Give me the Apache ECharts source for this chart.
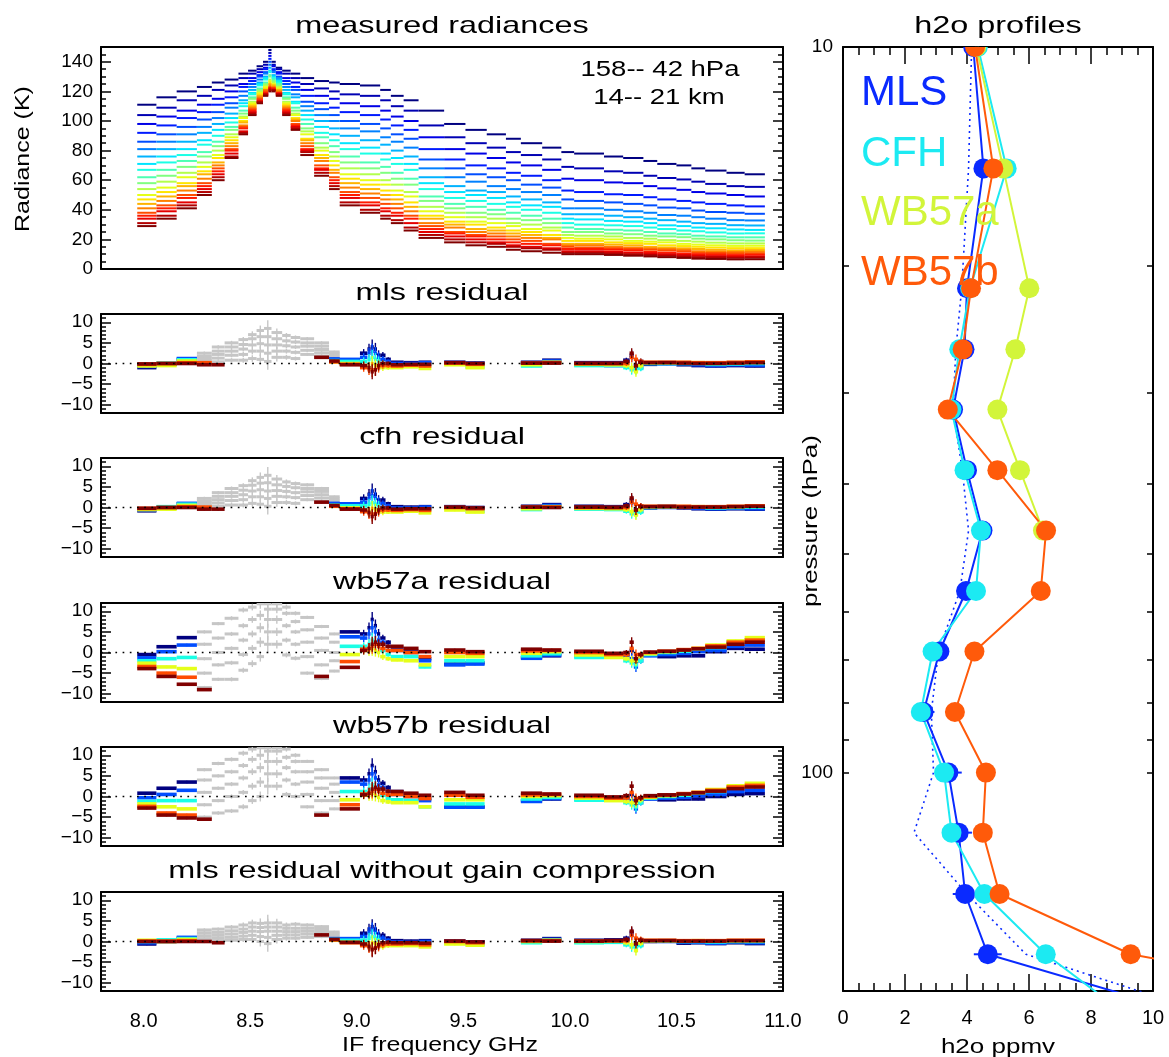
<!DOCTYPE html>
<html>
<head>
<meta charset="utf-8">
<title>measured radiances and h2o profiles</title>
<script src="https://cdn.jsdelivr.net/npm/echarts@6.0.0/dist/echarts.min.js"></script>
<style>
html,body{margin:0;padding:0;background:#fff;}
#chart{width:1169px;height:1057px;}
</style>
</head>
<body>
<div id="chart"></div>
<script>
// ================= DATA =================
const freqTicks = [8.0, 8.5, 9.0, 9.5, 10.0, 10.5, 11.0];
const radianceTicks = [0, 20, 40, 60, 80, 100, 120, 140];
const residualTicks = [-10, -5, 0, 5, 10];
const pressureLabels = [10, 100];
const pressureTicks = [10, 20, 30, 40, 50, 60, 70, 80, 90, 100, 200];

// radiance channels (GHz)
const radLo = [7.97,8.06,8.155,8.25,8.32,8.38,8.445,8.49,8.53,8.56,8.585,8.60,8.62,8.65,8.69,8.735,8.80,8.87,8.92,9.015,9.11,9.16,9.22,9.29,9.41,9.51,9.61,9.70,9.77,9.87,9.96,10.02,10.16,10.25,10.345,10.41,10.50,10.57,10.635,10.735,10.82];
const radHi = [8.06,8.155,8.25,8.32,8.38,8.445,8.49,8.53,8.56,8.585,8.60,8.62,8.65,8.69,8.735,8.80,8.87,8.92,9.015,9.11,9.16,9.22,9.29,9.41,9.51,9.61,9.70,9.77,9.87,9.96,10.02,10.16,10.25,10.345,10.41,10.50,10.57,10.635,10.735,10.82,10.915];
// radiance (K) per channel, 21 tangent levels from top (42 hPa) to bottom (158 hPa)
const radByChannel = [
[111,104,98,92,86,81,76,71,67,62,58,54,50,47,44,41,38,36,34,31,29],
[116,109,103,97,91,86,81,76,72,67,63,59,55,52,49,46,43,41,39,36,34],
[120,114,107,102,96,91,86,81,77,73,69,65,62,58,56,53,50,48,45,43,41],
[123,117,111,106,101,96,92,87,84,79,76,72,69,66,64,61,58,56,54,52,50],
[126,121,115,111,106,102,98,94,90,86,83,80,77,75,72,70,68,66,64,62,60],
[128,124,120,116,112,109,105,102,99,96,94,91,89,87,85,83,81,80,78,76,75],
[132,129,125,123,120,117,114,112,110,107,105,103,102,100,99,97,96,95,93,92,91],
[134,132,129,127,125,123,121,119,118,116,115,113,112,111,110,109,108,107,106,105,104],
[137,135,133,131,130,128,126,125,124,122,121,120,119,118,117,116,115,114,113,113,112],
[140,138,136,135,133,132,130,129,128,126,125,124,123,122,121,121,120,119,118,118,117],
[148,146,144,142,140,138,136,134,133,131,130,128,127,126,125,124,123,122,122,121,120],
[140,138,137,135,134,133,131,130,129,128,127,126,125,124,124,123,122,122,121,121,120],
[136,135,133,132,130,129,128,127,126,125,124,123,122,121,121,120,119,119,118,118,117],
[134,132,129,127,125,123,121,119,118,116,115,113,112,111,110,109,108,107,106,105,104],
[132,129,126,123,121,118,116,113,112,109,107,105,104,102,101,100,98,97,96,95,94],
[129,125,121,117,113,110,107,104,101,98,95,93,91,88,87,85,83,81,80,79,77],
[127,122,117,112,108,104,100,96,92,89,85,82,80,77,75,73,70,68,67,65,63],
[126,120,115,109,104,100,95,91,87,83,79,76,73,70,67,65,62,60,58,56,54],
[125,118,112,106,100,95,90,85,81,76,72,68,64,61,58,55,52,50,48,45,43],
[124,117,110,104,98,93,87,82,78,72,68,64,60,57,54,51,48,45,43,40,38],
[121,114,107,101,95,89,84,78,74,69,65,60,57,53,50,47,44,41,39,36,34],
[117,110,103,97,91,86,80,75,71,65,61,57,53,50,47,44,41,38,36,33,31],
[114,107,100,94,88,82,76,71,67,61,57,52,49,45,42,39,36,34,31,28,26],
[107,97,89,81,74,68,62,58,54,49,46,42,39,36,34,31,29,27,25,23,21],
[98,89,81,74,68,62,56,52,48,44,41,38,35,32,30,28,25,24,22,20,18],
[94,85,78,70,64,59,53,50,46,42,38,35,32,30,27,25,23,22,20,18,16],
[91,82,75,68,62,56,52,48,44,40,37,34,31,28,26,24,22,20,18,17,15],
[88,79,72,65,60,54,49,45,42,38,34,31,29,26,24,22,20,18,16,15,13],
[85,77,70,63,57,52,47,43,40,36,33,30,27,25,23,21,19,17,15,14,12],
[82,74,67,60,55,50,45,42,38,34,31,28,26,23,21,20,17,16,14,13,11],
[79,69,61,53,47,41,37,34,31,28,25,23,21,19,17,16,15,13.5,12,11,10],
[78,68,60,52,46,41,37,33.5,30,27,25,22.5,20.5,19,17,16,14.5,13.5,12,11,10],
[76,66,58.5,50.5,45,40,36,32.5,29.5,26.5,24,22,20,18,16.5,15,14,13,11.5,10.5,9.5],
[75,65,58,50,44,39,35,32,29,26,23.5,21,19,17.5,16,14.5,13.5,12.5,11,10,9],
[73,63,56,48.5,43,38,34,31,28,25,22.5,20.5,18.5,17,15,14,13,11.5,10.5,9.5,8.5],
[71,61.5,54.5,47,41.5,36.5,33,29.5,27,24,22,19.5,18,16,14.5,13.5,12.5,11,10,9,8],
[70,60.5,53.5,46,41,36,32,29,26,23.5,21.5,19,17,15.5,14,13,12,10.5,9.5,8.5,7.5],
[68,59,52,45,39.5,35,31,28,25.5,22.5,20.5,18.5,16.5,15,13.5,12,11,10,9,8,7],
[66.5,57.5,51,44,38.5,34,30.5,27.5,24.7,22,20,17.8,16,14.5,13,11.8,10.8,9.8,8.7,7.9,6.8],
[65,56,50,43,38,33,29.6,26.7,24,21.4,19.4,17.3,15.6,14.1,12.6,11.5,10.5,9.4,8.4,7.6,6.5],
[64,55.5,49,42.3,37.3,32.8,29.4,26.4,24.1,21.4,19.2,17.3,15.7,14.1,12.8,11.6,10.5,9.6,8.4,7.8,6.6]
];

// residual channels used in the retrieval (GHz) and their error-bar half heights (K)
const resLo = [7.97,8.06,8.155,8.87,8.92,9.015,9.05,9.065,9.08,9.095,9.11,9.135,9.16,9.22,9.29,9.41,9.51,9.77,9.87,10.02,10.16,10.25,10.28,10.30,10.32,10.345,10.41,10.50,10.57,10.635,10.735,10.82];
const resHi = [8.06,8.155,8.25,8.92,9.015,9.05,9.065,9.08,9.095,9.11,9.135,9.16,9.22,9.29,9.35,9.51,9.60,9.87,9.96,10.16,10.25,10.28,10.30,10.32,10.345,10.41,10.50,10.57,10.635,10.735,10.82,10.915];
const resErr = [0.3,0.3,0.3,0.3,0.3,1.0,1.3,1.8,1.5,1.2,0.8,0.5,0.3,0.3,0.3,0.3,0.3,0.3,0.3,0.3,0.3,0.6,1.2,1.2,0.7,0.3,0.3,0.3,0.3,0.3,0.3,0.3];
// channels not used (grey)
const grayLo = [8.25,8.32,8.38,8.445,8.49,8.53,8.565,8.60,8.65,8.69,8.735,8.80,8.87];
const grayHi = [8.32,8.38,8.445,8.49,8.53,8.565,8.60,8.65,8.69,8.735,8.80,8.87,8.92];
const grayErr = [0.4,0.4,0.5,0.6,0.8,1.2,2.0,1.0,0.6,0.5,0.4,0.4,0.3];

// residuals (K): per channel, 6 representative levels (top -> bottom)
const mlsRes = [
[-1.0,-0.7,-0.4,-0.6,-0.2,-0.1],[-0.2,-0.1,0.1,-0.5,0,0],[1.0,1.2,0.9,0.6,0.2,0],
[1.0,1.1,0.7,0.4,0.4,0.6],[0.9,1.0,0.5,0,-0.2,-0.3],
[2.5,1.5,0.5,-0.5,-1,-0.5],[3.5,2.5,1,-1,-1.5,-1],[4.0,3.0,1.5,0,-1.5,-2],[3.5,2.5,1.0,-0.5,-1.5,-1.5],[2.0,1.5,0.5,-0.5,-1,-0.5],[2.0,1.0,0,-1,-0.5,0],[1.0,0.5,-0.5,-1.0,-0.5,0],
[0.3,0,-0.5,-1.0,-0.6,-0.3],[0.2,0,-0.5,-0.8,-0.4,-0.2],[0.3,0.2,-0.3,-1.2,-0.6,-0.2],
[0.3,0.2,0,-0.3,0.1,0.2],[0.1,0,-0.8,-1.0,-0.2,0],
[0.3,0.1,-0.6,-0.3,0.1,0.1],[0.8,0.6,0.2,0.3,0.2,0.1],
[0.2,-0.3,-0.5,-0.2,0,0],[0.2,-0.5,-0.5,-0.3,0,0],
[0.8,0.5,-1.0,-0.5,0,0.5],[2.0,1.5,-1.5,-1.0,1.5,2.5],[-1.0,-0.5,-1.5,-2.0,1.0,-0.5],[0.5,-1.0,-1.2,-0.5,0.5,0.3],
[-0.2,0,0,0.2,0.3,0.2],[0.2,-0.1,0,0.2,0.3,0.2],[-0.3,0,0,0.2,0.3,0.1],[-0.5,-0.3,0,0.2,0.2,0],
[-0.6,-0.5,-0.2,0.1,0.2,0],[-0.5,-0.3,-0.1,0.2,0.3,0.1],[-0.6,-0.4,0,0.3,0.4,0.2]
];
const mlsGray = [[0,0.6,1.2,1.8,2.5],[0.4,1.3,2.2,3.0,4.0],[0.8,2.0,3.0,4.0,5.0],[0.8,2.2,3.5,4.6,5.8],[1.2,3.0,4.5,6.0,7.0],[1.0,3.0,4.8,6.5,8.0],[0.5,2.5,4.5,6.5,8.5],[1.5,3.0,4.5,6.0,7.5],[1.5,3.0,4.3,5.5,6.8],[1.2,2.7,4.0,5.2,6.3],[2.2,3.2,4.2,5.0,6.0],[1.8,2.6,3.4,4.2,5.0],[0.8,1.3,1.8,2.3,2.8]];
const mlsExtra = [[8.25,8.32,0.2,4],[8.25,8.32,-0.3,5],[8.32,8.38,-0.3,5],[8.80,8.87,1.5,5]];

const cfhRes = [
[-0.8,-0.6,-0.3,-0.5,-0.2,-0.2],[-0.1,0,0.2,-0.4,0,0],[0.9,1.0,0.8,0.5,0.2,0],
[0.9,1.0,0.6,0.3,0.3,0.5],[0.8,0.9,0.4,-0.1,-0.3,-0.4],
[2.2,1.3,0.4,-0.6,-1,-0.6],[3.2,2.2,0.8,-1,-1.5,-1.2],[4.0,2.8,1.2,-0.2,-1.6,-2.2],[3.2,2.3,0.8,-0.6,-1.5,-1.6],[1.8,1.3,0.4,-0.6,-1,-0.6],[1.8,0.9,-0.1,-1.1,-0.6,-0.1],[0.9,0.4,-0.6,-1.1,-0.6,-0.1],
[0.2,-0.1,-0.6,-1.1,-0.7,-0.4],[0.1,-0.1,-0.6,-0.9,-0.5,-0.3],[0.2,0.1,-0.4,-1.3,-0.7,-0.3],
[0.2,0.1,-0.1,-0.6,0,0.1],[0,-0.1,-0.9,-1.1,-0.3,-0.1],
[0.3,0.1,-0.5,-0.3,0.1,0.1],[0.7,0.5,0.2,0.2,0.1,0],
[0.3,-0.2,-0.4,-0.2,0,0.1],[0.2,-0.4,-0.5,-0.3,0,0],
[0.7,0.4,-0.9,-0.5,0,0.4],[1.8,1.2,-1.5,-1.0,1.3,2.3],[-1.0,-0.6,-1.5,-1.8,0.8,-0.6],[0.4,-0.9,-1.1,-0.5,0.4,0.2],
[-0.1,0,0,0.2,0.3,0.2],[0.3,0,0.1,0.2,0.3,0.2],[-0.1,0.1,0.1,0.2,0.3,0.1],[-0.3,-0.2,0.1,0.2,0.2,0.1],
[-0.4,-0.3,-0.1,0.1,0.2,0.1],[-0.3,-0.2,0,0.2,0.3,0.2],[-0.4,-0.3,0.1,0.3,0.4,0.3]
];
const cfhGray = [[0,0.5,1.0,1.6,2.2],[0.3,1.1,1.9,2.7,3.6],[0.6,1.7,2.7,3.6,4.6],[0.6,1.9,3.1,4.2,5.3],[1.0,2.6,4.0,5.4,6.5],[0.8,2.6,4.3,5.9,7.3],[0.3,2.2,4.0,6.0,7.8],[1.2,2.7,4.1,5.5,6.9],[1.2,2.6,3.9,5.1,6.2],[1.0,2.4,3.6,4.8,5.8],[1.9,2.9,3.8,4.6,5.5],[1.5,2.3,3.1,3.9,4.6],[0.6,1.1,1.6,2.1,2.6]];
const cfhExtra = [[8.25,8.32,0.1,4],[8.25,8.32,-0.4,5],[8.32,8.38,-0.4,5],[8.80,8.87,1.3,5]];

const wb57aRes = [
[-0.5,-1.3,-2.0,-2.6,-3.4,-3.9],[1.4,0.2,-1.5,-3.5,-5.0,-5.8],[3.6,1.8,-1.2,-3.9,-6.0,-7.7],
null,[5.0,3.8,1.5,-0.5,-2.2,-3.6],
[4.5,3.5,1.5,0.5,0.8,0.5],[6.0,4.5,2.0,0.5,1.0,1.0],[8.0,6.0,3.0,1.0,1.5,2.0],[6.5,5.0,2.5,0.5,2.0,2.5],[4.5,3.0,1.5,0,1.5,2.0],[3.5,2.5,0.5,-1.0,1.0,2.0],[2.5,1.5,-0.5,-1.5,0.5,1.5],
[1.0,0.5,-1.0,-1.8,0.5,1.5],[0.3,0,-1.0,-2.0,0,1.0],[-1.5,-2.0,-3.5,-3.0,-1.0,0.2],
[-2.8,-3.0,-2.0,-1.0,0,0.6],[-2.5,-2.8,-2.0,-1.0,-0.2,0.2],
[-1.2,-1.4,-0.8,-0.2,0.4,0.8],[-0.8,-0.6,-0.3,0.2,0.5,0.6],
[-0.5,-0.8,-1.2,-0.6,0,0.3],[-0.4,-0.6,-1.0,-1.2,-0.5,-0.2],
[-0.5,-1.0,-2.0,-1.5,-0.5,0],[0.5,-1.5,-2.5,-2.0,1.0,2.5],[-2.5,-3.5,-3.0,-2.0,-0.5,-1.5],[-1.0,-2.0,-2.0,-1.0,-0.5,-0.5],
[-0.6,-0.8,-0.5,-0.3,0,0.1],[-1.0,-0.5,0,0.2,0.3,0.3],[-0.8,-0.2,0.3,0.6,0.7,0.6],[-0.8,0.2,0.8,1.0,1.0,0.9],
[0.2,0.5,1.2,1.8,1.6,1.3],[1.0,1.5,2.5,2.8,2.5,2.0],[0.8,1.8,3.0,3.6,3.0,2.5]
];
const wb57aGray = [[-8.5,-5,-1.5,2,5],[-6.5,-3,0,3.5,7],[-6.5,-2.5,1,4.5,8.3],[-4.3,-0.5,3,6.5,10.3],[-2.7,1,4.5,8,11],[-1,2.5,6,9,11.8],[2,5,8,10.5,11.8],[2,5,8,10.5,11.8],[-0.6,3,6.5,9.5,11],[-1.4,2,5,7.5,9.5],[-5,-1,2.5,5.5,8.5],[-6.3,-3,0.5,3.5,6.3],[-4.5,-2,0,2.5,4.5]];
const wb57aExtra = [[8.25,8.32,-9.0,5],[8.80,8.87,-5.8,5]];

const wb57bRes = [
[0.8,-0.3,-1.2,-1.8,-2.4,-2.8],[2.0,0.5,-1.0,-2.5,-4.0,-4.5],[3.5,1.5,-1.0,-3.0,-4.5,-5.2],
null,[4.5,3.5,1.2,-0.8,-2.0,-3.0],
[4.0,3.0,1.2,0.3,0.6,0.4],[5.5,4.0,1.8,0.3,0.8,0.8],[7.5,5.5,2.8,0.8,1.3,1.8],[6.0,4.5,2.2,0.3,1.8,2.2],[4.0,2.8,1.3,-0.2,1.3,1.8],[3.2,2.2,0.3,-1.0,0.8,1.8],[2.2,1.3,-0.5,-1.3,0.4,1.3],
[1.2,0.5,-0.8,-1.5,0.5,1.2],[0.5,0,-1.0,-1.5,0,0.8],[-0.5,-1.0,-2.5,-2.5,-0.5,0.3],
[-2.5,-2.6,-1.8,-0.8,0.3,1.0],[-2.5,-2.6,-1.8,-0.8,-0.2,0.3],
[-1.0,-1.2,-0.6,0,0.4,0.8],[-0.6,-0.5,-0.2,0.2,0.5,0.6],
[-0.4,-0.6,-0.9,-0.4,0,0.3],[-0.3,-0.5,-0.8,-1.0,-0.4,-0.1],
[-0.5,-0.8,-1.5,-1.2,-0.3,0.2],[0.5,-1.0,-2.0,-1.5,1.0,2.5],[-2.0,-3.0,-2.5,-1.5,-0.5,-1.0],[-0.8,-1.5,-1.5,-0.8,-0.3,-0.3],
[-0.5,-0.6,-0.4,-0.2,0,0.2],[-0.8,-0.4,0,0.2,0.3,0.4],[-0.6,-0.2,0.3,0.6,0.7,0.6],[-0.6,0.2,0.8,1.0,1.0,0.9],
[0.0,0.5,1.2,1.7,1.5,1.3],[0.5,1.2,2.2,2.6,2.3,1.9],[0.7,1.5,2.6,3.2,2.7,2.3]
];
const wb57bGray = [[-5,-2,1,4,6.5],[-4,-1,2,5,8],[-3.5,0,3,6,9],[-2.5,1,4.5,7.5,10.5],[-1,2.5,6,9,11.5],[0,3.5,7,10,11.8],[2.5,5.5,8.5,11,11.8],[2.5,5.5,8.5,11,11.8],[0.5,4,7,9.5,11.5],[0,3,6,8.5,10],[-2.5,0.5,3.5,6,8.5],[-4,-1,2,4.5,6.5],[-3,-1,1,3,4.5]];
const wb57bExtra = [[8.25,8.32,-5.5,5],[8.80,8.87,-4.5,5]];

const nogainRes = [
[-0.6,-0.3,0,0.3,0.1,0],[0,0.2,0.4,0,0.1,0],[0.8,1.0,0.7,0.5,0.2,0],
[0.6,0.7,0.5,0.3,0.4,0.5],[0.6,0.7,0.3,-0.2,-0.3,-0.2],
[2.0,1.2,0.3,-0.6,-1,-0.6],[3.0,2.2,0.8,-1,-1.5,-1.2],[3.6,2.8,1.2,-0.3,-1.8,-2.0],[3.0,2.2,0.8,-0.6,-1.5,-1.6],[1.8,1.3,0.4,-0.6,-1.2,-0.8],[1.5,0.8,-0.3,-1.2,-0.8,-0.3],[0.8,0.3,-0.6,-1.0,-0.6,-0.2],
[0.2,-0.1,-0.6,-1.0,-0.6,-0.3],[0.1,-0.2,-0.7,-1.0,-0.5,-0.3],[0.2,0,-0.5,-1.3,-0.8,-0.4],
[0.1,0,-0.3,-0.6,0,0.1],[-0.1,-0.2,-0.7,-0.9,-0.3,-0.1],
[0.3,0.1,-0.3,0,0.2,0.2],[0.7,0.5,0.3,0.3,0.2,0.1],
[0.3,-0.1,-0.3,0,0.1,0.1],[0.4,0,-0.2,0.1,0.2,0.2],
[0.8,0.5,-0.8,-0.3,0.2,0.5],[2.2,1.5,-1.3,-0.8,1.5,2.5],[-1.0,-0.5,-1.5,-2.2,0.8,-0.5],[0.4,-0.8,-1.0,-0.4,0.5,0.3],
[0,0.1,0.1,0.2,0.3,0.2],[0.2,0,0.1,0.2,0.3,0.2],[-0.4,-0.1,0,0.1,0.2,0.1],[-0.3,-0.2,0,0.2,0.2,0.1],
[-0.5,-0.4,-0.1,0.1,0.2,0.1],[-0.3,-0.1,0,0.2,0.3,0.2],[-0.5,-0.3,0,0.2,0.3,0.2]
];
const nogainGray = [[0,0.7,1.4,2.1,2.8],[0.2,0.8,1.5,2.2,3.0],[0.3,1.0,1.8,2.6,3.5],[0.5,1.3,2.2,3.0,4.0],[0.5,1.5,2.5,3.5,4.5],[0,1.2,2.4,3.4,4.4],[-0.5,1,2.5,3.5,4.5],[0.5,1.5,2.5,3.5,4.5],[0.8,1.6,2.4,3.2,4.0],[0.8,1.6,2.4,3.2,4.2],[1.0,1.8,2.5,3.2,4.0],[1.2,1.8,2.4,3.0,3.6],[0.3,0.8,1.3,1.8,2.3]];
const nogainExtra = [[8.25,8.32,0,5],[8.32,8.38,-0.3,5],[8.80,8.87,1.6,5]];

// h2o profiles
const pressure = [10,14.7,21.5,26.1,31.6,38.3,46.4,56.2,68.1,82.5,100,121,147,178,215];
const mlsH2O   = [4.2,4.53,4.0,3.92,3.55,4.0,4.5,3.97,3.11,2.6,3.4,3.73,3.94,4.67,11.2];
const mlsErr   = [0.2,0.2,0.2,0.2,0.2,0.2,0.25,0.3,0.3,0.35,0.43,0.43,0.4,0.45,0.5];
const cfhH2O   = [4.35,5.28,4.1,3.75,3.5,3.92,4.45,4.29,2.89,2.51,3.26,3.5,4.56,6.54,9.1];
const wb57aH2O = [4.3,5.17,6.01,5.56,4.98,5.71,6.45];
const wb57bH2O = [4.26,4.85,4.13,3.86,3.38,4.98,6.55,6.38,4.24,3.61,4.61,4.51,5.05,9.28,20];
const aprioriH2O = [4.15,4.05,3.83,3.64,3.55,3.85,4.05,3.77,3.08,2.85,2.92,2.29,4.0,5.9,11.8];

// ================= STYLE / BUILD =================
const FONT = "'Liberation Sans', Arial, Helvetica, sans-serif";
function jet(t){
  const c = v => Math.max(0, Math.min(1, v));
  const r = c(1.5 - Math.abs(4*t - 3)), g = c(1.5 - Math.abs(4*t - 2)), b = c(1.5 - Math.abs(4*t - 1));
  return 'rgb(' + Math.round(r*255) + ',' + Math.round(g*255) + ',' + Math.round(b*255) + ')';
}
const lev21 = []; for (let i = 0; i < 21; i++) lev21.push(jet(i/20));
const lev6 = [0,4,8,12,16,20].map(i => lev21[i]);
const GRAY = '#c6c6c6';
const C_MLS = '#0a2aff', C_CFH = '#1ceaf2', C_WA = '#d2f53a', C_WB = '#ff5a0a';

const gridTops = [47, 314, 458, 603, 747, 892];
const gridH = [222, 99, 99, 99, 99, 99];
const grids = gridTops.map((t,i) => ({left:101, top:t, width:682, height:gridH[i], outerBoundsMode:'none', containLabel:false}));
grids.push({left:843, top:47, width:310, height:944, outerBoundsMode:'none', containLabel:false});

const lineStyleAxis = {color:'#000', width:2};
const tickLine = {color:'#000', width:1.5};
const lblBase = {color:'#000', fontSize:19, fontFamily:FONT};
const lblX = {color:'#000', fontSize:20, fontFamily:FONT};
const fmtMinus = v => (v < 0 ? '\u2212' + Math.abs(v) : String(v));

const xAxes = [];
for (let g = 0; g < 6; g++) {
  xAxes.push({type:'value', gridIndex:g, position:'bottom', min:7.8, max:11,
    axisLine:{show:true, onZero:false, lineStyle:lineStyleAxis}, axisTick:{show:false}, splitLine:{show:false},
    axisLabel: g === 5 ? Object.assign({show:true, customValues:freqTicks, formatter:v => Number(v).toFixed(1), margin:20}, lblX) : {show:false}});
  xAxes.push({type:'value', gridIndex:g, position:'top', min:7.8, max:11,
    axisLine:{show:true, onZero:false, lineStyle:lineStyleAxis}, axisTick:{show:false}, axisLabel:{show:false}, splitLine:{show:false}});
}
for (const pos of ['bottom','top']) {
  xAxes.push({type:'value', gridIndex:6, position:pos, min:0, max:10, interval:2,
    axisLine:{show:true, onZero:false, lineStyle:lineStyleAxis},
    axisTick:{show:true, inside:true, length:17, lineStyle:tickLine},
    minorTick:{show:true, splitNumber:4, length:8, lineStyle:tickLine},
    splitLine:{show:false}, minorSplitLine:{show:false},
    axisLabel: pos === 'bottom' ? Object.assign({show:true, margin:17, showMinLabel:true, showMaxLabel:true}, lblX) : {show:false}});
}

const yAxes = [];
function addY(grid, pos, min, max, majors, minorInt, showLabels, fmt) {
  const idx = yAxes.length;
  yAxes.push({type:'value', gridIndex:grid, position:pos, min:min, max:max,
    axisLine:{show:true, onZero:false, lineStyle:lineStyleAxis},
    axisTick:{show:true, inside:true, length:10, customValues:majors, lineStyle:tickLine},
    axisLabel: showLabels ? Object.assign({show:true, customValues:majors, formatter:fmt, margin:8}, lblBase) : {show:false},
    splitLine:{show:false}});
  yAxes.push({type:'value', gridIndex:grid, position:pos, min:min, max:max, interval:minorInt,
    axisLine:{show:false}, axisTick:{show:true, inside:true, length:5, lineStyle:tickLine},
    axisLabel:{show:false}, splitLine:{show:false}});
  return idx;
}
const yLeft = [];
yLeft.push(addY(0, 'left', 0, 150, radianceTicks, 5, true, v => String(v)));
addY(0, 'right', 0, 150, radianceTicks, 5, false);
for (let g = 1; g < 6; g++) {
  yLeft.push(addY(g, 'left', -12, 12, residualTicks, 1, true, fmtMinus));
  addY(g, 'right', -12, 12, residualTicks, 1, false);
}
const yLog = yAxes.length;
for (const pos of ['left','right']) {
  yAxes.push({type:'log', logBase:10, gridIndex:6, position:pos, min:10, max:200, inverse:true,
    axisLine:{show:true, onZero:false, lineStyle:lineStyleAxis},
    axisTick:{show:true, inside:true, length:6, customValues:pressureTicks, lineStyle:tickLine},
    minorTick:{show:false}, splitLine:{show:false},
    axisLabel: pos === 'left' ? Object.assign({show:true, customValues:pressureLabels, margin:10, formatter:v => String(Math.round(v))}, lblBase) : {show:false}});
}

const series = [];
// radiances
const radData = [];
for (let k = 0; k < 21; k++) for (let c = 0; c < radLo.length; c++) {
  const v = radByChannel[c][k];
  if (v != null) radData.push([radLo[c], radHi[c], v, k]);
}
series.push({type:'custom', xAxisIndex:0, yAxisIndex:yLeft[0], data:radData, encode:{x:[0,1], y:2}, clip:true, silent:true,
  renderItem:(p, api) => {
    const a = api.coord([api.value(0), api.value(2)]), b = api.coord([api.value(1), api.value(2)]);
    return {type:'line', shape:{x1:a[0], y1:a[1], x2:b[0], y2:b[1]}, style:{stroke:lev21[api.value(3)], lineWidth:2}};
  }});

function buildRes(colored, gray, extras) {
  const d = [];
  gray.forEach((vals, c) => vals.forEach(v => d.push([grayLo[c], grayHi[c], v, grayErr[c], 6])));
  for (let j = 0; j < 6; j++) colored.forEach((vals, c) => { if (vals) d.push([resLo[c], resHi[c], vals[j], resErr[c], j]); });
  extras.forEach(e => d.push([e[0], e[1], e[2], 0.3, e[3]]));
  return d;
}
const resPanels = [
  [mlsRes, mlsGray, mlsExtra], [cfhRes, cfhGray, cfhExtra], [wb57aRes, wb57aGray, wb57aExtra],
  [wb57bRes, wb57bGray, wb57bExtra], [nogainRes, nogainGray, nogainExtra]
];
resPanels.forEach((pn, i) => {
  const g = i + 1;
  series.push({type:'custom', xAxisIndex:2*g, yAxisIndex:yLeft[g], data:buildRes(pn[0], pn[1], pn[2]), encode:{x:[0,1], y:2}, clip:true, silent:true,
    renderItem:(p, api) => {
      const lo = api.value(0), hi = api.value(1), v = api.value(2), e = api.value(3), ci = api.value(4);
      const col = ci === 6 ? GRAY : lev6[ci];
      const a = api.coord([lo, v]), b = api.coord([hi, v]);
      const m = (lo + hi) / 2, t = api.coord([m, v + e]), u = api.coord([m, v - e]);
      return {type:'group', children:[
        {type:'line', shape:{x1:a[0], y1:a[1], x2:b[0], y2:b[1]}, style:{stroke:col, lineWidth:ci === 6 ? 3 : 3.6}},
        {type:'line', shape:{x1:t[0], y1:t[1], x2:u[0], y2:u[1]}, style:{stroke:col, lineWidth:1.4}}
      ]};
    }});
  series.push({type:'line', xAxisIndex:2*g, yAxisIndex:yLeft[g], data:[[7.8,0],[11,0]], symbol:'none', silent:true, z:5,
    lineStyle:{color:'#000', width:1.7, type:[1.7,5.5]}});
});

// h2o profiles
const halfSym = {symbol:'path://M0 0A10 10 0 0 0 20 0Z', symbolSize:[20,10], symbolOffset:[0,5]};
function prof(arr) {
  return arr.map((v, i) => (i === 0 ? Object.assign({value:[v, pressure[i]]}, halfSym) : [v, pressure[i]]));
}
series.push({type:'line', xAxisIndex:12, yAxisIndex:yLog, data:aprioriH2O.map((v,i) => [v, pressure[i]]), symbol:'none', silent:true,
  lineStyle:{color:C_MLS, width:1.6, type:[2,4]}});
series.push({type:'custom', xAxisIndex:12, yAxisIndex:yLog, clip:true, silent:true,
  data:mlsH2O.map((v,i) => [v - mlsErr[i], v + mlsErr[i], pressure[i]]), encode:{x:[0,1], y:2},
  renderItem:(p, api) => {
    const a = api.coord([api.value(0), api.value(2)]), b = api.coord([api.value(1), api.value(2)]);
    return {type:'line', shape:{x1:a[0], y1:a[1], x2:b[0], y2:b[1]}, style:{stroke:C_MLS, lineWidth:2}};
  }});
[[mlsH2O, C_MLS], [cfhH2O, C_CFH], [wb57aH2O, C_WA], [wb57bH2O, C_WB]].forEach(s => {
  series.push({type:'line', xAxisIndex:12, yAxisIndex:yLog, data:prof(s[0]), symbol:'circle', symbolSize:20, showAllSymbol:true,
    clip:true, silent:true, itemStyle:{color:s[1], borderWidth:0}, lineStyle:{color:s[1], width:2}});
});

// texts
function txt(text, x, y, size, sx, color, rot, align) {
  return {type:'text', x:x, y:y, rotation:rot || 0, scaleX:sx, scaleY:1, silent:true, z:100,
    style:{text:text, fill:color || '#000', fontSize:size, fontFamily:FONT,
      align:align || 'center', verticalAlign:'middle', textAlign:align || 'center', textVerticalAlign:'middle'}};
}
const titles = ['measured radiances', 'mls residual', 'cfh residual', 'wb57a residual', 'wb57b residual', 'mls residual without gain compression'];
const graphic = titles.map((t, i) => txt(t, 442, gridTops[i] - 20.5, 24, 1.35));
graphic.push(txt('h2o profiles', 998, 26.5, 24, 1.35));
graphic.push(txt('158-- 42 hPa', 660, 70, 22, 1.25));
graphic.push(txt('14-- 21 km', 659, 98, 22, 1.25));
graphic.push(txt('Radiance (K)', 23, 159, 20, 1.25, '#000', Math.PI/2));
graphic.push(txt('pressure (hPa)', 811, 521, 20, 1.3, '#000', Math.PI/2));
graphic.push(txt('IF frequency GHz', 440, 1045, 20, 1.25));
graphic.push(txt('h2o ppmv', 998, 1047, 20, 1.3));
graphic.push(txt('MLS', 861, 93, 42, 1, C_MLS, 0, 'left'));
graphic.push(txt('CFH', 861, 154, 42, 1, C_CFH, 0, 'left'));
graphic.push(txt('WB57a', 861, 213, 42, 1, C_WA, 0, 'left'));
graphic.push(txt('WB57b', 861, 273, 42, 1, C_WB, 0, 'left'));

const chart = echarts.init(document.getElementById('chart'), null, {renderer:'canvas'});
chart.setOption({
  backgroundColor:'#fff',
  animation:false,
  grid:grids,
  xAxis:xAxes,
  yAxis:yAxes,
  series:series,
  graphic:graphic
});
</script>
</body>
</html>
